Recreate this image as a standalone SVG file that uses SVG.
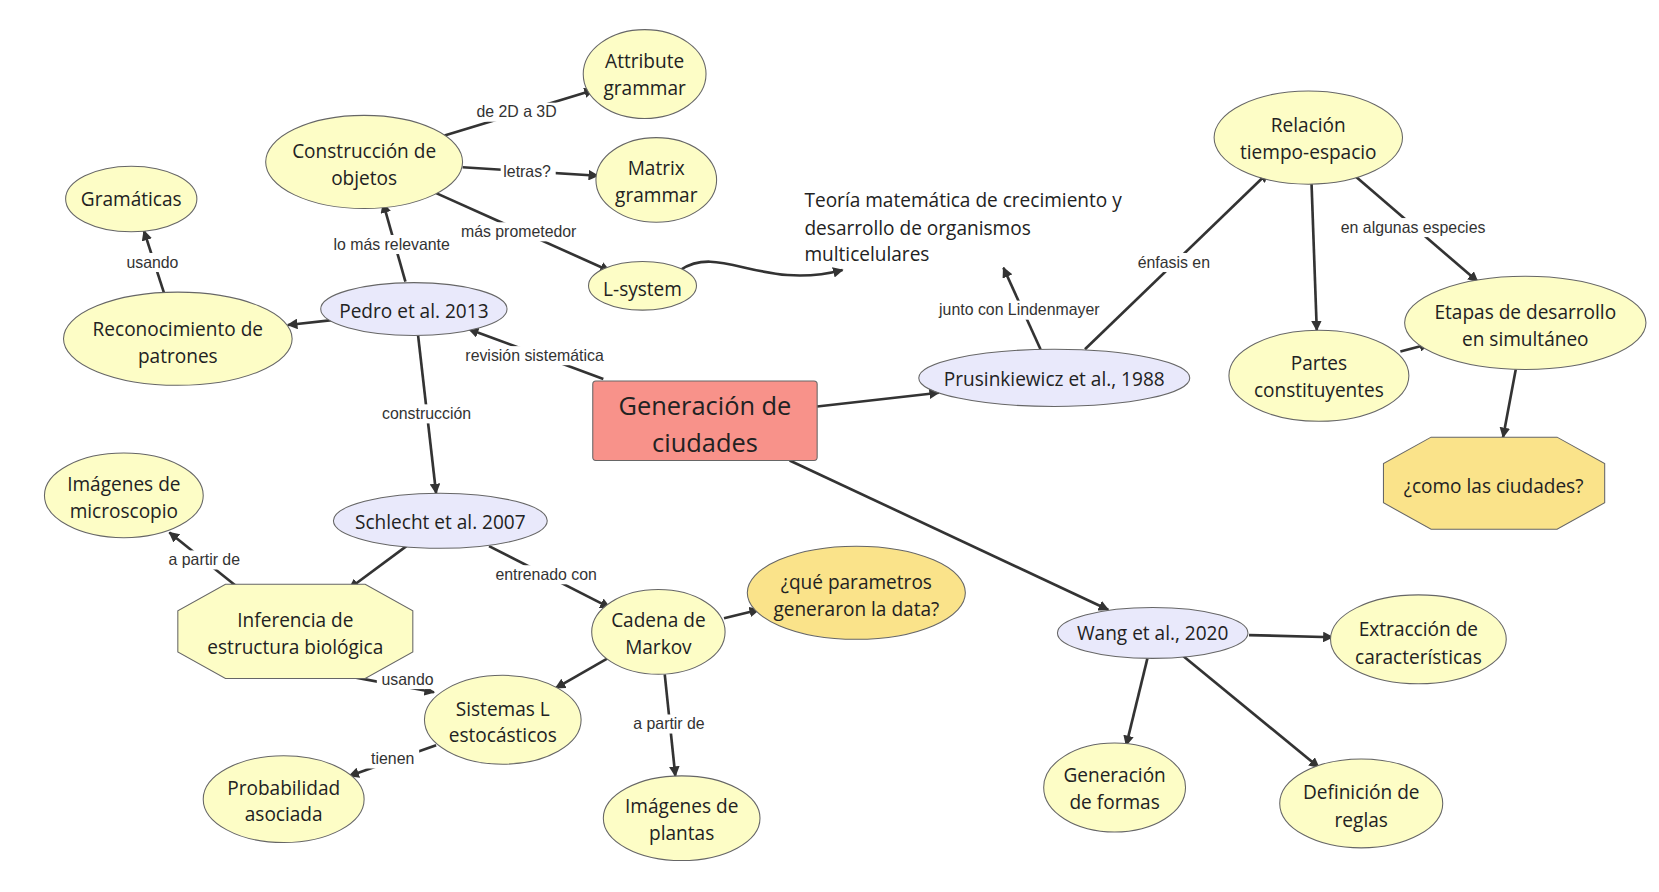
<svg xmlns="http://www.w3.org/2000/svg" width="1659" height="892" viewBox="0 0 1659 892">
<style>
.n{fill:#fdfdc6;stroke:#666;stroke-width:1}
.p{fill:#e9e9fb;stroke:#666;stroke-width:1}
.q{fill:#fae38a;stroke:#666;stroke-width:1}
.t{font-family:"Open Sans","Liberation Sans",sans-serif;font-size:18px;fill:#222;text-anchor:middle}
.c line,.c path{stroke:#333;stroke-width:2.5;fill:none;marker-end:url(#a)}
.l{font-family:"Liberation Sans",sans-serif;font-size:15px;fill:#333;text-anchor:middle}
.lb{fill:#fff}
</style>
<defs><marker id="a" viewBox="0 0 10 10" refX="9" refY="5" markerWidth="4" markerHeight="4" orient="auto"><path d="M0,0L10,5L0,10z" fill="#333"/></marker></defs>
<rect width="1659" height="892" fill="#fff"/>
<g transform="scale(1.0585)">
<g class="c" id="connectors">
<line x1="570" y1="358" x2="443" y2="311"/>
<line x1="383" y1="266" x2="362" y2="192"/>
<line x1="318" y1="302" x2="272" y2="307"/>
<line x1="155" y1="277" x2="136" y2="218"/>
<line x1="420" y1="128" x2="561" y2="85"/>
<line x1="437" y1="158" x2="565" y2="166"/>
<line x1="411" y1="182" x2="576" y2="256"/>
<path d="M643,255 C680,230 720,275 796,255"/>
<line x1="395" y1="317" x2="412" y2="466"/>
<line x1="384" y1="516" x2="330" y2="556"/>
<line x1="226" y1="556" x2="160" y2="503"/>
<line x1="462" y1="516" x2="576" y2="574"/>
<line x1="684" y1="584" x2="717" y2="576"/>
<line x1="574" y1="622" x2="525" y2="650"/>
<line x1="330" y1="639" x2="410" y2="654"/>
<line x1="412" y1="704" x2="330" y2="733"/>
<line x1="628" y1="637" x2="638" y2="733"/>
<line x1="772" y1="384" x2="887" y2="371"/>
<line x1="983" y1="330" x2="948" y2="253"/>
<line x1="1025" y1="330" x2="1198" y2="163"/>
<line x1="1239" y1="172" x2="1244" y2="312"/>
<line x1="1281" y1="167" x2="1396" y2="266"/>
<line x1="1323" y1="332" x2="1350" y2="325"/>
<line x1="1432" y1="349" x2="1420" y2="413"/>
<line x1="746" y1="435" x2="1047" y2="576"/>
<line x1="1180" y1="600" x2="1259" y2="602"/>
<line x1="1084" y1="622" x2="1064" y2="704"/>
<line x1="1118" y1="620" x2="1246" y2="725"/>
</g>
<g id="labels">
<rect class="lb" x="430" y="327" width="150" height="18"/><text class="l" x="505" y="341">revisión sistemática</text>
<rect class="lb" x="306" y="222" width="128" height="18"/><text class="l" x="370" y="236">lo más relevante</text>
<rect class="lb" x="114" y="239" width="60" height="18"/><text class="l" x="144" y="253">usando</text>
<rect class="lb" x="444" y="97" width="88" height="18"/><text class="l" x="488" y="111">de 2D a 3D</text>
<rect class="lb" x="473" y="153" width="52" height="18"/><text class="l" x="498" y="167">letras?</text>
<rect class="lb" x="428" y="210" width="124" height="18"/><text class="l" x="490" y="224">más prometedor</text>
<rect class="lb" x="354" y="382" width="98" height="18"/><text class="l" x="403" y="396">construcción</text>
<rect class="lb" x="154" y="520" width="78" height="18"/><text class="l" x="193" y="534">a partir de</text>
<rect class="lb" x="460" y="534" width="112" height="18"/><text class="l" x="516" y="548">entrenado con</text>
<rect class="lb" x="356" y="633" width="58" height="18"/><text class="l" x="385" y="647">usando</text>
<rect class="lb" x="346" y="708" width="50" height="18"/><text class="l" x="371" y="722">tienen</text>
<rect class="lb" x="593" y="675" width="78" height="18"/><text class="l" x="632" y="689">a partir de</text>
<rect class="lb" x="875" y="284" width="176" height="18"/><text class="l" x="963" y="298">junto con Lindenmayer</text>
<rect class="lb" x="1069" y="239" width="80" height="18"/><text class="l" x="1109" y="253">énfasis en</text>
<rect class="lb" x="1256" y="206" width="158" height="18"/><text class="l" x="1335" y="220">en algunas especies</text>
</g>
<g id="attribute"><ellipse class="n" cx="609" cy="70" rx="58" ry="42"/><text class="t" x="609" y="64">Attribute</text><text class="t" x="609" y="90">grammar</text></g>
<g id="construccion"><ellipse class="n" cx="344" cy="153" rx="93" ry="44"/><text class="t" x="344" y="149">Construcción de</text><text class="t" x="344" y="175">objetos</text></g>
<g id="matrix"><ellipse class="n" cx="620" cy="170" rx="57" ry="40"/><text class="t" x="620" y="165">Matrix</text><text class="t" x="620" y="191">grammar</text></g>
<g id="gramaticas"><ellipse class="n" cx="124" cy="188" rx="62" ry="31"/><text class="t" x="124" y="195">Gramáticas</text></g>
<g id="lsystem"><ellipse class="n" cx="607" cy="270" rx="51" ry="23"/><text class="t" x="607" y="280">L-system</text></g>
<g id="reconocimiento"><ellipse class="n" cx="168" cy="320" rx="108" ry="44"/><text class="t" x="168" y="317">Reconocimiento de</text><text class="t" x="168" y="343">patrones</text></g>
<g id="pedro"><ellipse class="p" cx="391" cy="292" rx="88" ry="25"/><text class="t" x="391" y="300">Pedro et al. 2013</text></g>
<g id="ciudades"><rect x="560" y="360" width="212" height="75" rx="3" fill="#f8928a" stroke="#666"/><text class="t" x="666" y="392" style="font-size:24px">Generación de</text><text class="t" x="666" y="427" style="font-size:24px">ciudades</text></g>
<g id="teoria"><text class="t" x="760" y="196" style="text-anchor:start">Teoría matemática de crecimiento y</text><text class="t" x="760" y="222" style="text-anchor:start">desarrollo de organismos</text><text class="t" x="760" y="247" style="text-anchor:start">multicelulares</text></g>
<g id="prusinkiewicz"><ellipse class="p" cx="996" cy="357" rx="128" ry="27"/><text class="t" x="996" y="365">Prusinkiewicz et al., 1988</text></g>
<g id="relacion"><ellipse class="n" cx="1236" cy="130" rx="89" ry="44"/><text class="t" x="1236" y="125">Relación</text><text class="t" x="1236" y="150">tiempo-espacio</text></g>
<g id="etapas"><ellipse class="n" cx="1441" cy="305" rx="114" ry="44"/><text class="t" x="1441" y="301">Etapas de desarrollo</text><text class="t" x="1441" y="327">en simultáneo</text></g>
<g id="partes"><ellipse class="n" cx="1246" cy="355" rx="85" ry="43"/><text class="t" x="1246" y="350">Partes</text><text class="t" x="1246" y="375">constituyentes</text></g>
<g id="como"><polygon class="q" points="1352,413 1471,413 1516,438 1516,475 1471,500 1352,500 1307,475 1307,438"/><text class="t" x="1411" y="466">¿como las ciudades?</text></g>
<g id="microscopio"><ellipse class="n" cx="117" cy="468" rx="75" ry="40"/><text class="t" x="117" y="464">Imágenes de</text><text class="t" x="117" y="489">microscopio</text></g>
<g id="schlecht"><ellipse class="p" cx="416" cy="492" rx="101" ry="26"/><text class="t" x="416" y="500">Schlecht et al. 2007</text></g>
<g id="inferencia"><polygon class="n" points="213,552 345,552 390,577 390,616 345,641 213,641 168,616 168,577"/><text class="t" x="279" y="592">Inferencia de</text><text class="t" x="279" y="618">estructura biológica</text></g>
<g id="markov"><ellipse class="n" cx="622" cy="597" rx="63" ry="40"/><text class="t" x="622" y="592">Cadena de</text><text class="t" x="622" y="618">Markov</text></g>
<g id="parametros"><ellipse class="q" cx="809" cy="560" rx="103" ry="44"/><text class="t" x="809" y="556">¿qué parametros</text><text class="t" x="809" y="582">generaron la data?</text></g>
<g id="sistemas"><ellipse class="n" cx="475" cy="680" rx="74" ry="42"/><text class="t" x="475" y="676">Sistemas L</text><text class="t" x="475" y="701">estocásticos</text></g>
<g id="probabilidad"><ellipse class="n" cx="268" cy="755" rx="76" ry="41"/><text class="t" x="268" y="751">Probabilidad</text><text class="t" x="268" y="776">asociada</text></g>
<g id="plantas"><ellipse class="n" cx="644" cy="773" rx="74" ry="40"/><text class="t" x="644" y="768">Imágenes de</text><text class="t" x="644" y="794">plantas</text></g>
<g id="wang"><ellipse class="p" cx="1089" cy="598" rx="90" ry="24"/><text class="t" x="1089" y="605">Wang et al., 2020</text></g>
<g id="extraccion"><ellipse class="n" cx="1340" cy="604" rx="83" ry="42"/><text class="t" x="1340" y="601">Extracción de</text><text class="t" x="1340" y="627">características</text></g>
<g id="formas"><ellipse class="n" cx="1053" cy="744" rx="67" ry="42"/><text class="t" x="1053" y="739">Generación</text><text class="t" x="1053" y="764">de formas</text></g>
<g id="definicion"><ellipse class="n" cx="1286" cy="759" rx="77" ry="42"/><text class="t" x="1286" y="755">Definición de</text><text class="t" x="1286" y="781">reglas</text></g>
</g>
</svg>
